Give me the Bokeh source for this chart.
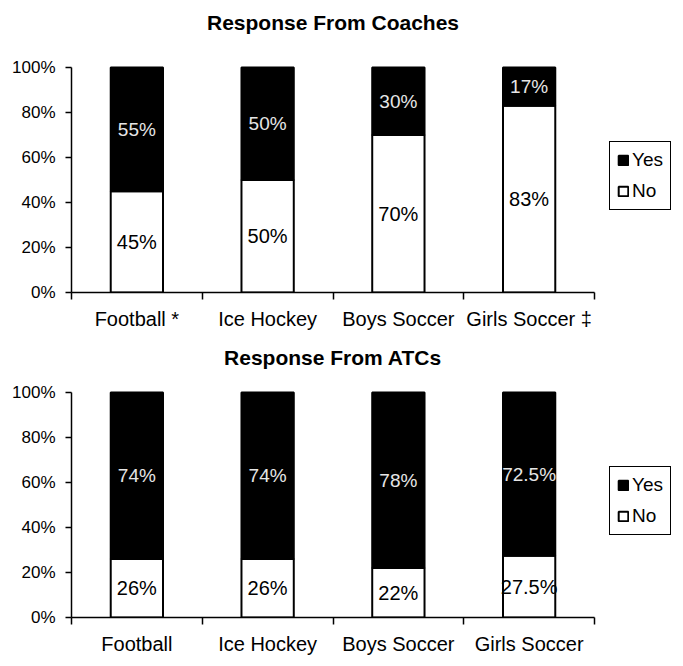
from bokeh.plotting import figure
from bokeh.layouts import column
from bokeh.models import (FixedTicker, Legend, LegendItem, ColumnDataSource, Range1d, Label)
from bokeh.core.properties import value
from bokeh.embed import file_html
from bokeh.resources import INLINE

# ---- data ----
coaches_categories = ["Football *", "Ice Hockey", "Boys Soccer", "Girls Soccer \u2021"]
coaches_yes = [55, 50, 30, 17]
coaches_no = [45, 50, 70, 83]

atcs_categories = ["Football", "Ice Hockey", "Boys Soccer", "Girls Soccer"]
atcs_yes = [74, 74, 78, 72.5]
atcs_no = [26, 26, 22, 27.5]

y_ticks = [0, 20, 40, 60, 80, 100]
y_tick_labels = ["0%", "20%", "40%", "60%", "80%", "100%"]
series_names = ["Yes", "No"]

FONT = "Liberation Sans"
AXIS_W, AXIS_H = 523, 225      # pixel length of the drawn axes
EXTRA_RIGHT = 81               # room for the legend, inside the frame


def pct(v):
    return f"{v:g}%"


def make_chart(title, cats, no, yes, extra_top, title_gap):
    n = len(cats)
    x = [i + 0.5 for i in range(n)]
    total = [a + b for a, b in zip(no, yes)]
    src = ColumnDataSource(dict(
        x=x, no=no, yes=yes, total=total,
        no_mid=[a / 2 for a in no],
        yes_mid=[a + b / 2 for a, b in zip(no, yes)],
        no_lbl=[pct(v) for v in no],
        yes_lbl=[pct(v) for v in yes],
    ))
    fw = AXIS_W + EXTRA_RIGHT
    fh = AXIS_H + extra_top
    p = figure(frame_width=fw, frame_height=fh,
               x_range=Range1d(0, n * fw / AXIS_W),
               y_range=Range1d(0, 100 * fh / AXIS_H),
               output_backend="svg", toolbar_location=None,
               min_border_left=71, min_border_right=0,
               min_border_top=0, min_border_bottom=40)
    p.outline_line_color = None
    p.xgrid.grid_line_color = None
    p.ygrid.grid_line_color = None
    p.background_fill_color = "white"
    p.border_fill_color = "white"

    # chart title, centred over the axes
    p.add_layout(Label(x=AXIS_W / 2, y=AXIS_H + title_gap,
                       x_units="screen", y_units="screen", text=title,
                       text_align="center", text_baseline="middle",
                       text_font=FONT, text_font_size="21px",
                       text_font_style="bold", text_color="black"))

    r_no = p.vbar(x="x", bottom=0, top="no", width=0.4, source=src,
                  fill_color="white", line_color="black", line_width=2)
    r_yes = p.vbar(x="x", bottom="no", top="total", width=0.4, source=src,
                   fill_color="black", line_color="black", line_width=2)

    p.text(x="x", y="no_mid", text="no_lbl", source=src,
           text_align="center", text_baseline="middle",
           text_font=value(FONT), text_font_size="20px", text_color="black")
    p.text(x="x", y="yes_mid", text="yes_lbl", source=src,
           text_align="center", text_baseline="middle",
           text_font=value(FONT), text_font_size="19px", text_color="#e6e6e6")

    # y axis
    ya = p.yaxis[0]
    ya.bounds = (0, 100)
    ya.ticker = FixedTicker(ticks=y_ticks, minor_ticks=[])
    ya.major_label_overrides = {t: l for t, l in zip(y_ticks, y_tick_labels)}
    ya.axis_line_width = 1.5
    ya.axis_line_color = "black"
    ya.major_tick_line_width = 1.5
    ya.major_tick_out = 6
    ya.major_tick_in = 0
    ya.minor_tick_line_color = None
    ya.major_label_standoff = 10
    ya.major_label_text_font = FONT
    ya.major_label_text_font_size = "17px"
    ya.major_label_text_color = "black"

    # x axis: labels at category centres, tick marks at category boundaries
    xa = p.xaxis[0]
    xa.bounds = (0, n)
    xa.ticker = FixedTicker(ticks=x, minor_ticks=[float(i) for i in range(n + 1)])
    xa.major_label_overrides = {xv: c for xv, c in zip(x, cats)}
    xa.major_tick_line_color = None
    xa.major_tick_out = 0
    xa.major_tick_in = 0
    xa.minor_tick_out = 7
    xa.minor_tick_in = 0
    xa.minor_tick_line_width = 1.5
    xa.minor_tick_line_color = "black"
    xa.axis_line_width = 1.5
    xa.axis_line_color = "black"
    xa.major_label_standoff = 8
    xa.major_label_text_font = FONT
    xa.major_label_text_font_size = "20px"
    xa.major_label_text_color = "black"

    legend = Legend(items=[LegendItem(label=series_names[0], renderers=[r_yes]),
                           LegendItem(label=series_names[1], renderers=[r_no])],
                    location=(AXIS_W + 15, 82), margin=0, padding=7, spacing=9,
                    glyph_width=12, glyph_height=12, label_standoff=3,
                    label_text_font=FONT, label_text_font_size="19px",
                    label_text_color="black",
                    label_height=21, label_width=20,
                    border_line_color="black", border_line_width=1.5,
                    border_line_alpha=1.0,
                    background_fill_color="white", background_fill_alpha=1.0)
    p.add_layout(legend, "center")
    return p


p1 = make_chart("Response From Coaches", coaches_categories, coaches_no, coaches_yes, 67, 45)
p2 = make_chart("Response From ATCs", atcs_categories, atcs_no, atcs_yes, 60, 35)

layout = column(p1, p2, spacing=0)
open("out.html", "w").write(file_html(layout, INLINE))
